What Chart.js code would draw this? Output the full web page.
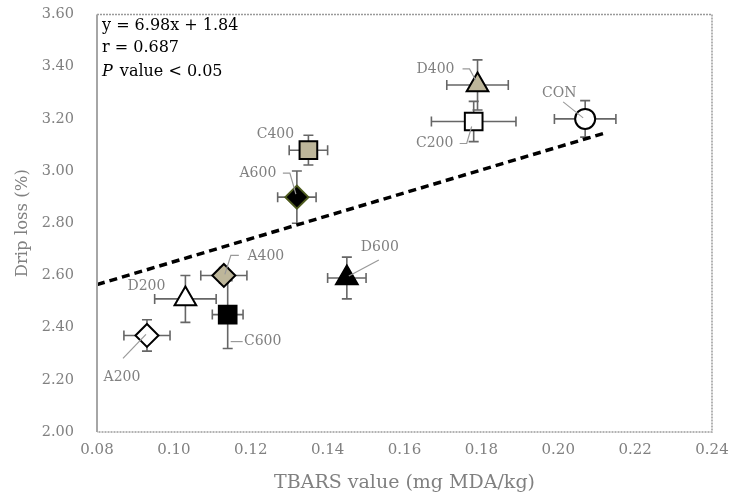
<!DOCTYPE html>
<html lang="en">
<head>
    <meta charset="UTF-8">
    <title>TBARS vs Drip loss</title>
    <script src="https://cdn.jsdelivr.net/npm/chart.js"></script>
    <style>
        body { margin: 0; background: #fff; }
        #wrap { width: 729px; height: 496px; }
    </style>
</head>
<body>
    <div id="wrap"><canvas id="dripChart" width="729" height="496"></canvas></div>

    <script>
        // groups and their measured values
        const groups = ['CON', 'C200', 'C400', 'C600', 'A200', 'A400', 'A600', 'D200', 'D400', 'D600'];
        const tbars = [0.207, 0.178, 0.135, 0.114, 0.093, 0.113, 0.132, 0.103, 0.179, 0.145];
        const drip = [3.20, 3.19, 3.08, 2.45, 2.37, 2.60, 2.90, 2.51, 3.33, 2.59];
        const tbarsErr = [0.008, 0.011, 0.005, 0.004, 0.006, 0.006, 0.005, 0.008, 0.008, 0.005];
        const dripErr = [0.07, 0.077, 0.057, 0.13, 0.06, 0.03, 0.10, 0.09, 0.096, 0.08];

        // regression line as drawn
        const trendX = [0.08, 0.212];
        const trendY = [2.565, 3.145];

        const xTicks = [0.08, 0.10, 0.12, 0.14, 0.16, 0.18, 0.20, 0.22, 0.24];
        const yTicks = [2.00, 2.20, 2.40, 2.60, 2.80, 3.00, 3.20, 3.40, 3.60];

        const statLines = ['y = 6.98x + 1.84', 'r = 0.687', 'value < 0.05'];

        // marker looks
        const TAN = '#bdb69a';
        const shapes = ['circle', 'rect', 'rect', 'rect', 'rectRot', 'rectRot', 'rectRot', 'triangle', 'triangle', 'triangle'];
        const fills = ['#fff', '#fff', TAN, '#000', '#fff', TAN, '#000', '#fff', TAN, '#000'];
        const edges = ['#000', '#000', '#000', '#000', '#000', '#000', '#4d5a1e', '#000', '#000', '#000'];
        const sizes = shapes.map(s => s === 'circle' ? 10 : s === 'rect' ? 12.5 : s === 'rectRot' ? 11.5 : 12.5);

        // label offsets from the point (px) and leader lines
        const labelPlace = {
            CON:  { t: [-26, -26], l: [[-22, -17], [-2, -1]] },
            C200: { t: [-39, 22], l: [[-14, 22], [-7, 22], [-2, 5]] },
            C400: { t: [-33, -16], l: null },
            C600: { t: [35, 27], l: [[3, 27], [15, 27]] },
            A200: { t: [-25, 42], l: [[-24, 23], [-1, -1]] },
            A400: { t: [42, -19], l: [[15, -20], [7, -20], [1, -1]] },
            A600: { t: [-39, -24], l: [[-14, -24], [-7, -24], [-1, -3]] },
            D200: { t: [-39, -13], l: null },
            D400: { t: [-42, -16], l: [[-15, -16], [-8, -16], [-2, -5]] },
            D600: { t: [33, -31], l: [[32, -18], [2, -2]] }
        };

        const serif = '"DejaVu Serif", "Liberation Serif", serif';
        const grey = '#808080';

        const errorBars = {
            id: 'errorBars',
            beforeDatasetsDraw(chart) {
                const ctx = chart.ctx;
                const xs = chart.scales.x, ys = chart.scales.y;
                ctx.save();
                ctx.strokeStyle = '#666';
                ctx.lineWidth = 1.6;
                const cap = 5;
                for (let i = 0; i < groups.length; i++) {
                    const px = xs.getPixelForValue(tbars[i]);
                    const py = ys.getPixelForValue(drip[i]);
                    const x0 = xs.getPixelForValue(tbars[i] - tbarsErr[i]);
                    const x1 = xs.getPixelForValue(tbars[i] + tbarsErr[i]);
                    const y0 = ys.getPixelForValue(drip[i] - dripErr[i]);
                    const y1 = ys.getPixelForValue(drip[i] + dripErr[i]);
                    ctx.beginPath();
                    ctx.moveTo(x0, py); ctx.lineTo(x1, py);
                    ctx.moveTo(x0, py - cap); ctx.lineTo(x0, py + cap);
                    ctx.moveTo(x1, py - cap); ctx.lineTo(x1, py + cap);
                    ctx.moveTo(px, y0); ctx.lineTo(px, y1);
                    ctx.moveTo(px - cap, y0); ctx.lineTo(px + cap, y0);
                    ctx.moveTo(px - cap, y1); ctx.lineTo(px + cap, y1);
                    ctx.stroke();
                }
                ctx.restore();
            },
            afterDatasetsDraw(chart) {
                const ctx = chart.ctx;
                const xs = chart.scales.x, ys = chart.scales.y;
                const area = chart.chartArea;
                ctx.save();

                // frame: solid left, dotted elsewhere
                ctx.strokeStyle = '#9a9a9a';
                ctx.lineWidth = 1.5;
                ctx.setLineDash([2, 1]);
                ctx.beginPath();
                ctx.moveTo(area.left, area.top); ctx.lineTo(area.right, area.top);
                ctx.lineTo(area.right, area.bottom); ctx.lineTo(area.left, area.bottom);
                ctx.stroke();
                ctx.setLineDash([]);
                ctx.strokeStyle = '#a6a6a6';
                ctx.lineWidth = 2;
                ctx.beginPath();
                ctx.moveTo(area.left, area.top); ctx.lineTo(area.left, area.bottom);
                ctx.stroke();

                // point labels
                ctx.font = '14px ' + serif;
                ctx.textAlign = 'center';
                ctx.textBaseline = 'middle';
                for (let i = 0; i < groups.length; i++) {
                    const px = xs.getPixelForValue(tbars[i]);
                    const py = ys.getPixelForValue(drip[i]);
                    const p = labelPlace[groups[i]];
                    if (p.l) {
                        ctx.strokeStyle = '#999';
                        ctx.lineWidth = 1.2;
                        ctx.beginPath();
                        p.l.forEach((q, k) => {
                            if (k === 0) ctx.moveTo(px + q[0], py + q[1]);
                            else ctx.lineTo(px + q[0], py + q[1]);
                        });
                        ctx.stroke();
                    }
                    ctx.fillStyle = grey;
                    ctx.fillText(groups[i], px + p.t[0], py + p.t[1]);
                }

                // regression stats
                ctx.fillStyle = '#000';
                ctx.textAlign = 'left';
                ctx.font = '16px ' + serif;
                ctx.fillText(statLines[0], area.left + 5, 26);
                ctx.fillText(statLines[1], area.left + 5, 48);
                ctx.font = 'italic 16px ' + serif;
                ctx.fillText('P', area.left + 5, 72);
                const pw = ctx.measureText('P ').width;
                ctx.font = '16px ' + serif;
                ctx.fillText(statLines[2], area.left + 7 + pw, 72);
                ctx.restore();
            }
        };

        const ctx = document.getElementById('dripChart').getContext('2d');
        window.myChart = new Chart(ctx, {
            type: 'scatter',
            data: {
                datasets: [
                    {
                        label: 'Groups',
                        data: groups.map((g, i) => ({ x: tbars[i], y: drip[i] })),
                        pointStyle: shapes,
                        pointRadius: sizes,
                        pointHoverRadius: sizes,
                        backgroundColor: fills,
                        borderColor: edges,
                        pointBorderWidth: 2,
                        order: 0
                    },
                    {
                        type: 'line',
                        label: 'Trend',
                        data: trendX.map((x, i) => ({ x: x, y: trendY[i] })),
                        borderColor: '#000',
                        borderWidth: 3.5,
                        borderDash: [8, 5],
                        pointRadius: 0,
                        fill: false,
                        order: 1
                    }
                ]
            },
            options: {
                responsive: false,
                animation: false,
                layout: { padding: { top: 14, right: 17, left: 0, bottom: 0 } },
                plugins: {
                    legend: { display: false },
                    tooltip: { enabled: false }
                },
                scales: {
                    x: {
                        type: 'linear',
                        min: xTicks[0],
                        max: xTicks[xTicks.length - 1],
                        afterBuildTicks: s => { s.ticks = xTicks.map(v => ({ value: v })); },
                        afterFit: s => { s.height = 64; s.paddingLeft = 0; s.paddingRight = 0; },
                        grid: { display: false, drawTicks: false },
                        border: { display: false },
                        ticks: {
                            padding: 9,
                            color: grey,
                            font: { family: serif, size: 15 },
                            callback: v => v.toFixed(2)
                        },
                        title: {
                            display: true,
                            text: 'TBARS value (mg MDA/kg)',
                            color: grey,
                            font: { family: serif, size: 19 },
                            padding: { top: 0, bottom: 2 }
                        }
                    },
                    y: {
                        type: 'linear',
                        min: yTicks[0],
                        max: yTicks[yTicks.length - 1],
                        afterBuildTicks: s => { s.ticks = yTicks.map(v => ({ value: v })); },
                        afterFit: s => { s.width = 97; s.paddingTop = 0; s.paddingBottom = 0; },
                        grid: { display: false, drawTicks: false },
                        border: { display: false },
                        ticks: {
                            padding: 23,
                            color: grey,
                            font: { family: serif, size: 14.5 },
                            callback: v => v.toFixed(2)
                        },
                        title: {
                            display: true,
                            text: 'Drip loss (%)',
                            color: grey,
                            font: { family: serif, size: 16.5 },
                            padding: { top: 13, bottom: 0 }
                        }
                    }
                }
            },
            plugins: [errorBars]
        });
    </script>
</body>
</html>
